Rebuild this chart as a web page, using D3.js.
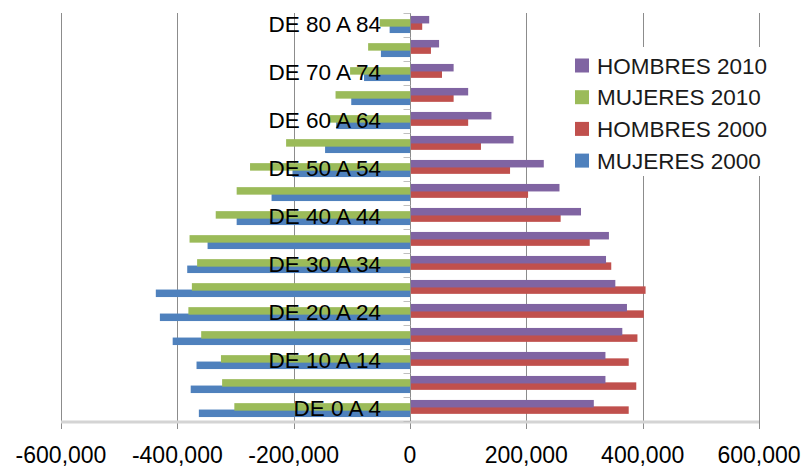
<!DOCTYPE html>
<html>
<head>
<meta charset="utf-8">
<script src="https://cdn.jsdelivr.net/npm/d3@7"></script>
<style>
  html, body { margin: 0; padding: 0; background: #fff; }
  svg { display: block; }
  text { font-family: "Liberation Sans", Arial, sans-serif; fill: #000; }
</style>
</head>
<body>
<svg id="chart" width="808" height="467"></svg>
<script>
// ---- DATA ----
const ages = ["DE 0 A 4","DE 5 A 9","DE 10 A 14","DE 15 A 19","DE 20 A 24","DE 25 A 29",
  "DE 30 A 34","DE 35 A 39","DE 40 A 44","DE 45 A 49","DE 50 A 54","DE 55 A 59",
  "DE 60 A 64","DE 65 A 69","DE 70 A 74","DE 75 A 79","DE 80 A 84"];
const mujeres2000 = [-363000,-377000,-367000,-408000,-430000,-437000,-383000,-348000,-298000,-238000,-202000,-146000,-127000,-101000,-79000,-50000,-35000];
const hombres2000 = [376000,389000,376000,391000,402000,405000,346000,309000,259000,203000,172000,122000,100000,75000,55000,36000,21000];
const mujeres2010 = [-302000,-323000,-325000,-359000,-381000,-375000,-366000,-379000,-334000,-298000,-275000,-213000,-140000,-128000,-103000,-72000,-52000];
const hombres2010 = [316000,336000,336000,365000,373000,353000,337000,342000,294000,257000,230000,178000,140000,100000,75000,50000,33000];
const xTicks = [-600000,-400000,-200000,0,200000,400000,600000];
const seriesNames = ["MUJERES 2000","HOMBRES 2000","MUJERES 2010","HOMBRES 2010"];
const seriesColors = ["#4F81BD","#C0504D","#9BBB59","#8064A2"];
const legendOrder = ["HOMBRES 2010","MUJERES 2010","HOMBRES 2000","MUJERES 2000"];

(function () {
// ---- LAYOUT ----
const svg = d3.select("#chart");
const pLeft = 61, pRight = 759, pTop = 13, pBottom = 421;

const x = d3.scaleLinear().domain([-600000, 600000]).range([pLeft, pRight]);
const y = d3.scaleBand().domain(ages).range([pBottom, pTop]).paddingInner(0).paddingOuter(0);

const series = [
  {name: seriesNames[0], values: mujeres2000, color: seriesColors[0], slot: 3},
  {name: seriesNames[1], values: hombres2000, color: seriesColors[1], slot: 2},
  {name: seriesNames[2], values: mujeres2010, color: seriesColors[2], slot: 1},
  {name: seriesNames[3], values: hombres2010, color: seriesColors[3], slot: 0}
];

// gridlines (with tick marks below axis)
svg.append("g").selectAll("line").data(xTicks).join("line")
  .attr("x1", d => Math.round(x(d)) + 0.5).attr("x2", d => Math.round(x(d)) + 0.5)
  .attr("y1", pTop).attr("y2", pBottom + 8)
  .attr("stroke", "#8c8c8c").attr("stroke-width", 1);

// bottom axis line
svg.append("line")
  .attr("x1", pLeft).attr("x2", pRight).attr("y1", pBottom + 1).attr("y2", pBottom + 1)
  .attr("stroke", "#d4d4d4").attr("stroke-width", 3);

// bars
const bw = y.bandwidth();
const barH = 7.5, step = 3.2;
const pad = (bw - (barH + 3 * step)) / 2 - 0.5;
series.forEach(s => {
  svg.append("g").selectAll("rect").data(ages).join("rect")
    .attr("x", (d, i) => x(Math.min(0, s.values[i])))
    .attr("width", (d, i) => Math.abs(x(s.values[i]) - x(0)))
    .attr("y", d => y(d) + pad + s.slot * step)
    .attr("height", barH)
    .attr("fill", s.color);
});

// vertical category axis at 0
const x0 = Math.round(x(0)) + 0.5;
svg.append("line")
  .attr("x1", x0).attr("x2", x0).attr("y1", pTop).attr("y2", pBottom)
  .attr("stroke", "#8c8c8c").attr("stroke-width", 1);
// category tick marks at band boundaries
const bounds = ages.map(a => y(a)).concat([pBottom]);
svg.append("g").selectAll("line").data(bounds).join("line")
  .attr("x1", x0 - 7).attr("x2", x0)
  .attr("y1", d => Math.round(d) + 0.5).attr("y2", d => Math.round(d) + 0.5)
  .attr("stroke", "#bfbfbf").attr("stroke-width", 1);

// category labels (every other)
svg.append("g").selectAll("text").data(ages.filter((d, i) => i % 2 === 0)).join("text")
  .attr("x", 381)
  .attr("y", d => y(d) + bw / 2 - 1)
  .attr("dy", "0.36em")
  .attr("text-anchor", "end")
  .style("font-size", "22.5px")
  .text(d => d);

// x tick labels (plain hyphen minus, as in the reference)
const fmt = d => d3.format(",")(d).replace("\u2212", "-");
svg.append("g").selectAll("text").data(xTicks).join("text")
  .attr("x", d => x(d))
  .attr("y", 463)
  .attr("text-anchor", "middle")
  .style("font-size", "23px")
  .text(d => fmt(d));

// legend
const lg = svg.append("g");
lg.append("rect").attr("x", 562).attr("y", 47).attr("width", 222).attr("height", 129).attr("fill", "#fff");
const colorOf = name => series.find(s => s.name === name).color;
legendOrder.forEach((name, i) => {
  const cy = 65.5 + i * 31.7;
  lg.append("rect").attr("x", 575).attr("y", cy - 7).attr("width", 14).attr("height", 14).attr("fill", colorOf(name));
  lg.append("text").attr("x", 597).attr("y", cy).attr("dy", "0.36em")
    .style("font-size", "22.5px").style("fill", "#1a1a1a").text(name);
});
})();
</script>
</body>
</html>
